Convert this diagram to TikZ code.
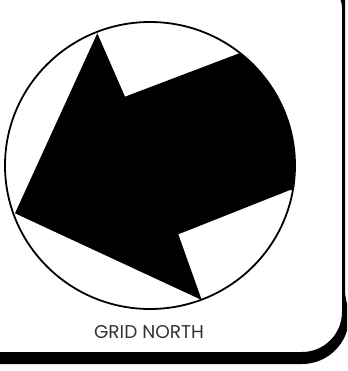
\documentclass[tikz,border=0pt]{standalone}
\usepackage{fontspec}
\setmainfont{Poppins}
\begin{document}
\begin{tikzpicture}[x=1pt,y=-1pt,
  ring/.style={draw=black,line width=1.8pt},
  arrowfill/.style={fill=black},
  framefill/.style={fill=black},
  label/.style={font=\fontsize{18.5}{18.5}\selectfont,text=black!80,inner sep=0pt}]
\useasboundingbox (0,0) rectangle (347,371);
\begin{scope}
\clip (0,0) rectangle (347,371);
% frame with shadow
\fill[framefill] (-5,364) -- (302,364)
  .. controls (328,364) and (349,343) .. (349,317)
  .. controls (349,308) and (345,300) .. (345,290)
  -- (345,-5) -- (338,-5)
  .. controls (340,-2) and (342,2) .. (342,8)
  -- (342,312) .. controls (342,334.1) and (324.1,352) .. (302,352)
  -- (-5,352) -- cycle;
\end{scope}
% circle and arrow
\coordinate (O) at (150,165.5);
\begin{scope}
\clip (O) ellipse [x radius=145, y radius=143.5];
\fill[arrowfill] (97.3,33.3) coordinate (A) -- (125,96.7) coordinate (B)
  -- (239.3,53.3) coordinate (C) -- (300,10) -- (360,150) -- (360,190)
  -- (290,190) coordinate (D) -- (178.3,234.3) coordinate (E)
  -- (201.7,300) coordinate (F) -- (15,213.3) coordinate (G) -- cycle;
\end{scope}
\draw[ring] (O) ellipse [x radius=145, y radius=143.5];
\node[label] (t) at (149,332) {GRID NORTH};
\end{tikzpicture}
\end{document}
